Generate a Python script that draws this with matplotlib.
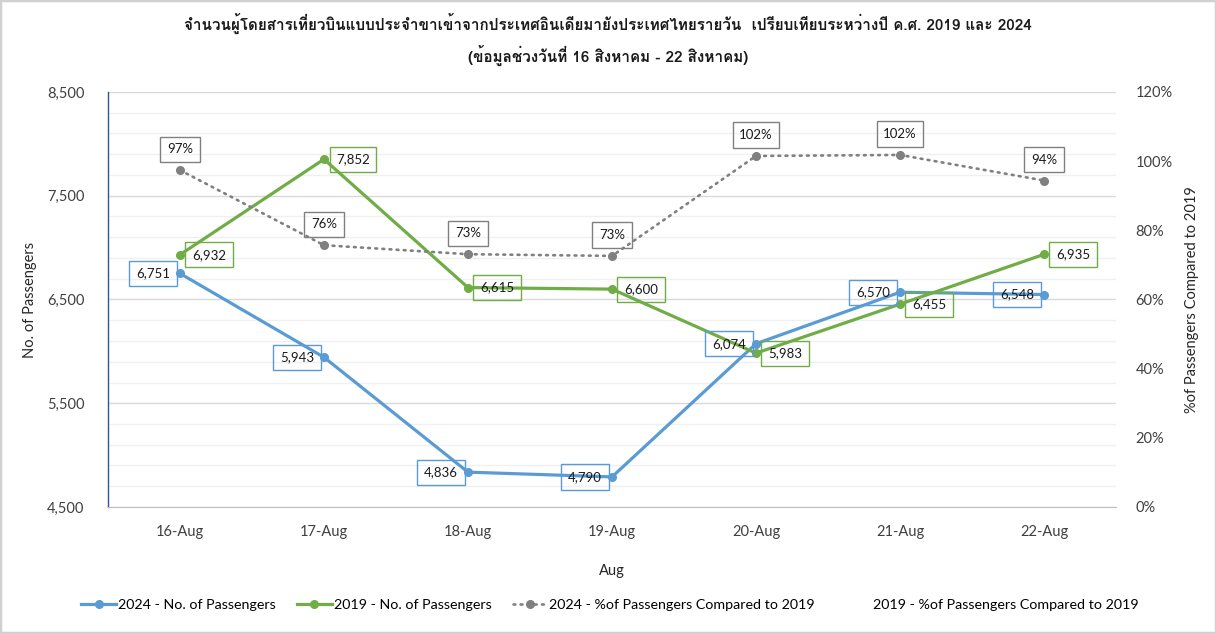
import matplotlib
matplotlib.use('Agg')
import matplotlib.pyplot as plt
from matplotlib.lines import Line2D
from matplotlib.patches import Rectangle
from matplotlib.ticker import FixedLocator, FuncFormatter, PercentFormatter, MultipleLocator

plt.rcParams['font.family'] = ['Lato', 'DejaVu Sans']

# data
days = ['16-Aug', '17-Aug', '18-Aug', '19-Aug', '20-Aug', '21-Aug', '22-Aug']
pax_2024 = [6751, 5943, 4836, 4790, 6074, 6570, 6548]
pax_2019 = [6932, 7852, 6615, 6600, 5983, 6455, 6935]
pct_2024 = [0.974, 0.757, 0.731, 0.726, 1.015, 1.018, 0.944]
pct_labels = ['97%', '76%', '73%', '73%', '102%', '102%', '94%']
y_major = [4500, 5500, 6500, 7500, 8500]

c_blue = '#5B9BD5'
c_green = '#70AD47'
c_gray = '#808080'

fig = plt.figure(figsize=(12.16, 6.33), dpi=100)
ax1 = fig.add_axes([108 / 1216, 126 / 633, 1008 / 1216, 415 / 633])
ax2 = ax1.twinx()

x = list(range(len(days)))
dots = (0, (0.7, 2.0))

ax1.plot(x, pax_2024, color=c_blue, lw=2.3, marker='o', ms=5.5, zorder=3)
ax1.plot(x, pax_2019, color=c_green, lw=2.3, marker='o', ms=5.5, zorder=3)
ax2.plot(x, pct_2024, color=c_gray, lw=1.9, ls=dots, marker='o', ms=5.5,
         dash_capstyle='round')

ax1.set_xlim(-0.5, 6.5)
ax1.set_ylim(y_major[0], y_major[-1])
ax2.set_ylim(0, 1.2)

ax1.yaxis.set_major_locator(FixedLocator(y_major))
ax1.yaxis.set_minor_locator(FixedLocator(list(range(y_major[0], y_major[-1] + 1, 200))))
ax1.yaxis.set_major_formatter(FuncFormatter(lambda v, p: f'{v:,.0f}'))
ax1.grid(True, which='major', axis='y', color='#D9D9D9', lw=1)
ax1.grid(True, which='minor', axis='y', color='#F0F0F0', lw=1)
ax1.set_axisbelow(True)
ax2.yaxis.set_major_locator(MultipleLocator(0.2))
ax2.yaxis.set_major_formatter(PercentFormatter(1.0, decimals=0))

ax1.set_xticks(x)
ax1.set_xticklabels(days)

for s in ['top', 'right']:
    ax1.spines[s].set_visible(False)
for s in ['top', 'right', 'left', 'bottom']:
    ax2.spines[s].set_visible(False)
ax1.spines['left'].set_color('#2F5597')
ax1.spines['left'].set_linewidth(1)
ax1.spines['bottom'].set_color('#BFBFBF')

ax1.tick_params(axis='y', which='both', length=0, pad=17, labelsize=10.5, colors='#404040')
ax1.tick_params(axis='x', length=0, pad=13, labelsize=10.5, colors='#404040')
ax2.tick_params(axis='y', length=0, pad=14, labelsize=10.5, colors='#404040')

ax1.set_ylabel('No. of Passengers', fontsize=10.5, color='#262626', labelpad=7)
ax2.set_ylabel('%of Passengers Compared to 2019', fontsize=10.5, color='#262626', labelpad=9)
ax1.set_xlabel('Aug', fontsize=10.5, color='#262626', labelpad=18)

def box_label(ax, xi, yi, text, color, dx, dy):
    ax.annotate(text, (xi, yi), xytext=(dx, dy), textcoords='offset pixels',
                ha='center', va='center', fontsize=9.5, color='#1a1a1a',
                bbox=dict(boxstyle='square,pad=0.5', fc='none', ec=color, lw=1),
                zorder=5)

for xi, v in zip(x, pax_2024):
    box_label(ax1, xi, v, f'{v:,}', c_blue, -27, 0)
for xi, v in zip(x, pax_2019):
    box_label(ax1, xi, v, f'{v:,}', c_green, 29, 0)
for xi, v, t in zip(x, pct_2024, pct_labels):
    box_label(ax2, xi, v, t, c_gray, 0, 21)

handles = [
    Line2D([], [], color=c_blue, lw=2.3, marker='o', ms=5.5),
    Line2D([], [], color=c_green, lw=2.3, marker='o', ms=5.5),
    Line2D([], [], color=c_gray, lw=1.9, ls=dots, marker='o', ms=5.5, dash_capstyle='round'),
    Line2D([], [], color='none'),
]
labels = ['2024 - No. of Passengers', '2019 - No. of Passengers',
          '2024 - %of Passengers Compared to 2019', '2019 - %of Passengers Compared to 2019']
fig.legend(handles, labels, loc='center', bbox_to_anchor=(610 / 1216, 0.044), ncol=4,
           frameon=False, fontsize=10.3, handlelength=2.4, handletextpad=0.15,
           columnspacing=1.5)

thai = ['Loma', 'DejaVu Sans']
fig.text(0.5, 1 - 23 / 633, 'จำนวนผู้โดยสารเที่ยวบินแบบประจำขาเข้าจากประเทศอินเดียมายังประเทศไทยรายวัน  เปรียบเทียบระหว่างปี ค.ศ. 2019 และ 2024',
         ha='center', va='center', fontsize=11, fontweight='bold', family=thai, color='#1a1a1a')
fig.text(0.5, 1 - 55 / 633, '(ข้อมูลช่วงวันที่ 16 สิงหาคม - 22 สิงหาคม)',
         ha='center', va='center', fontsize=11, fontweight='bold', family=thai, color='#1a1a1a')

fig.patches.append(Rectangle((0, 0), 1, 1, transform=fig.transFigure, fill=False,
                             ec='#D0D0D0', lw=2.5))

fig.savefig('out.png', dpi=100)
